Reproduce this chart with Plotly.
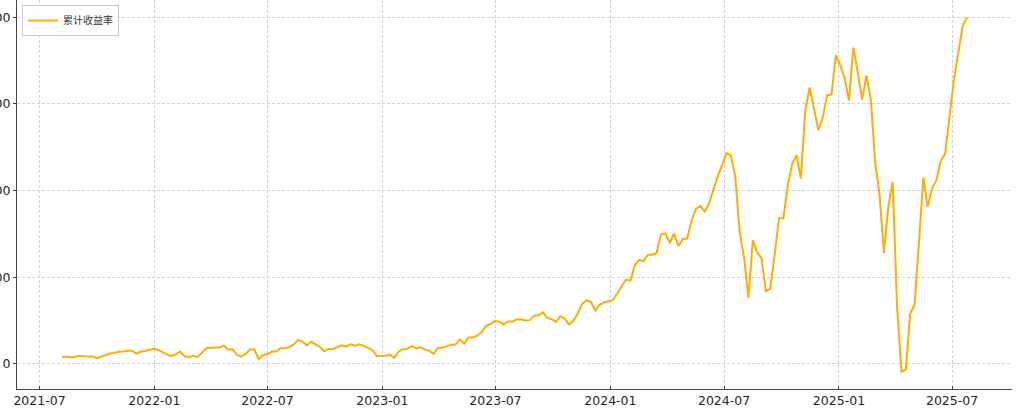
import pandas as pd
import plotly.graph_objects as go

series_name = "累计收益率"
start_date = "2021-08-06"
values = [
    7.7, 8.4, 7.3, 8.5, 9.2, 8.8, 8.4, 8.4, 6.5, 8.5,
    10.5, 11.9, 12.7, 14.0, 14.2, 14.5, 15.4, 11.9, 14.0, 14.8,
    16.0, 17.3, 16.1, 14.0, 11.0, 8.8, 11.0, 14.2, 9.0, 7.7,
    9.2, 7.7, 13.0, 18.0, 18.5, 18.8, 18.8, 21.0, 16.5, 16.9,
    10.5, 8.4, 11.5, 16.5, 16.5, 5.4, 10.4, 11.1, 14.2, 14.2,
    18.0, 18.1, 19.3, 22.5, 27.7, 25.8, 21.5, 25.5, 22.5, 19.5,
    14.5, 17.3, 17.3, 19.6, 21.5, 20.0, 22.7, 21.1, 22.7, 20.8,
    18.3, 16.0, 9.2, 9.5, 9.4, 10.8, 6.9, 14.0, 17.0, 17.3,
    20.4, 17.7, 19.2, 16.4, 15.0, 11.5, 18.3, 18.5, 20.5, 22.2,
    22.3, 28.2, 23.5, 30.5, 30.8, 32.5, 36.8, 43.8, 46.0, 49.5,
    48.8, 45.5, 49.0, 48.8, 51.3, 51.5, 50.0, 50.5, 55.5, 56.0,
    59.5, 53.0, 51.5, 48.5, 55.0, 52.3, 45.5, 50.0, 58.5, 69.5,
    73.5, 71.5, 61.5, 68.5, 70.8, 72.7, 73.8, 81.3, 88.8, 97.3,
    96.0, 113.5, 120.0, 118.5, 126.0, 126.0, 128.0, 149.5, 150.7, 139.5,
    150.5, 136.0, 144.0, 144.6, 165.5, 179.0, 182.2, 176.0, 185.0, 201.0,
    217.0, 229.5, 243.5, 240.5, 216.0, 152.0, 123.0, 76.0, 142.5, 128.5,
    122.0, 84.0, 86.8, 126.0, 168.0, 168.0, 206.0, 231.0, 241.0, 214.0,
    293.0, 319.0, 295.0, 270.0, 284.0, 310.0, 311.0, 356.0, 345.0, 330.0,
    304.0, 365.0, 337.0, 305.0, 333.0, 305.0, 232.0, 195.0, 128.0, 182.0,
    210.0, 66.0, -9.0, -6.5, 58.0, 68.0, 140.0, 215.0, 181.0, 202.6,
    212.0, 234.0, 243.0, 284.0, 328.0, 359.0, 390.0, 400.0,
]
dates = pd.date_range(start=start_date, periods=len(values), freq="7D")

x_tick_vals = ["2021-07-01", "2022-01-01", "2022-07-01", "2023-01-01", "2023-07-01",
               "2024-01-01", "2024-07-01", "2025-01-01", "2025-07-01"]
x_tick_text = ["2021-07", "2022-01", "2022-07", "2023-01", "2023-07",
               "2024-01", "2024-07", "2025-01", "2025-07"]
y_tick_vals = [0, 100, 200, 300, 400]
x_range = ["2021-05-26", "2025-10-05"]
y_range = [-29, 420]

fig = go.Figure()
fig.add_trace(go.Scatter(
    x=dates, y=values, mode="lines", name=series_name,
    line=dict(color="#FFAD00", width=2),
))

axis_common = dict(
    showgrid=True, gridcolor="#d2d2d2", gridwidth=0.8, griddash="3px,2px",
    showline=True, linecolor="#444444", linewidth=1,
    ticklen=3, tickcolor="#444444",
    tickfont=dict(family="DejaVu Sans", size=12.5, color="#262626"),
    zeroline=False, automargin=False,
)

fig.update_layout(
    width=1024, height=409,
    margin=dict(l=17, r=12, t=0, b=20),
    paper_bgcolor="white", plot_bgcolor="white",
    showlegend=True,
    legend=dict(
        x=0.005, y=0.987, xanchor="left", yanchor="top",
        bgcolor="rgba(255,255,255,0.9)", bordercolor="#cccccc", borderwidth=1,
        font=dict(family="Noto Sans CJK SC", size=10, color="#333333"),
        itemwidth=30,
    ),
    xaxis=dict(range=x_range, tickvals=x_tick_vals, ticktext=x_tick_text,
               ticks="inside", **axis_common),
    yaxis=dict(range=y_range, tickvals=y_tick_vals, ticks="outside", **axis_common),
)

fig.write_html(
    "out.html",
    config={"displayModeBar": False},
    post_script="document.body.style.margin='0';document.body.style.overflow='hidden';",
)
